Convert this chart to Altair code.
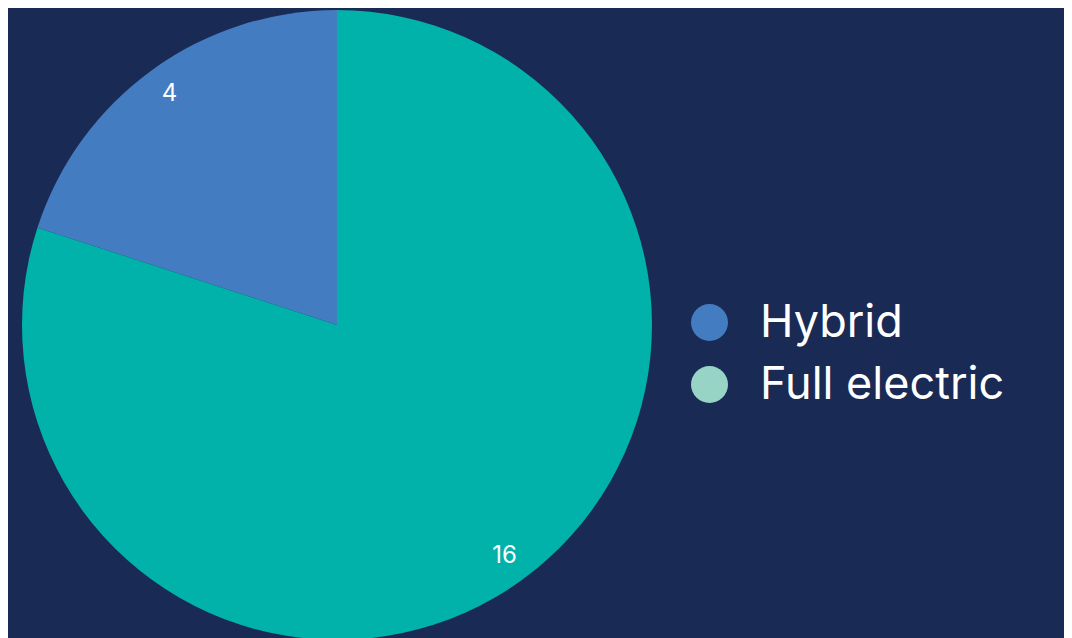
import altair as alt
import pandas as pd

categories = ["Hybrid", "Full electric"]
values = [4, 16]
draw_order = [2, 1]
slice_colors = ["#447cc1", "#00b2aa"]
legend_colors = ["#447cc1", "#97d4c6"]

df = pd.DataFrame({"type": categories, "count": values, "ord": draw_order})

base = alt.Chart(df).encode(
    theta=alt.Theta("count:Q", stack=True),
    order=alt.Order("ord:Q"),
)

pie = base.mark_arc(outerRadius=315, stroke=None).encode(
    color=alt.Color("type:N", scale=alt.Scale(domain=categories, range=slice_colors), legend=None)
)

legend_layer = base.mark_arc(outerRadius=1, opacity=0).encode(
    fill=alt.Fill(
        "type:N",
        scale=alt.Scale(domain=categories, range=legend_colors),
        legend=alt.Legend(
            title=None,
            orient="none",
            legendX=679,
            legendY=292,
            symbolType="circle",
            symbolSize=1369,
            symbolOpacity=1,
            symbolStrokeWidth=0,
            labelFont="Inter",
            labelFontSize=45,
            labelFontWeight=400,
            labelColor="#ffffff",
            labelOffset=28,
            rowPadding=16,
            labelLimit=500,
        ),
    )
)

labels = base.mark_text(radius=285, font="Inter", fontSize=24, color="#ffffff").encode(
    text=alt.Text("count:Q")
)

chart = alt.layer(pie, legend_layer, labels).resolve_scale(color="independent").properties(
    width=658,
    height=634,
    background="#192a55",
    padding={"left": 0, "top": 0, "bottom": 0, "right": 59},
).configure_view(stroke=None)

chart.save("out.html", embed_options={"renderer": "svg", "actions": False})
